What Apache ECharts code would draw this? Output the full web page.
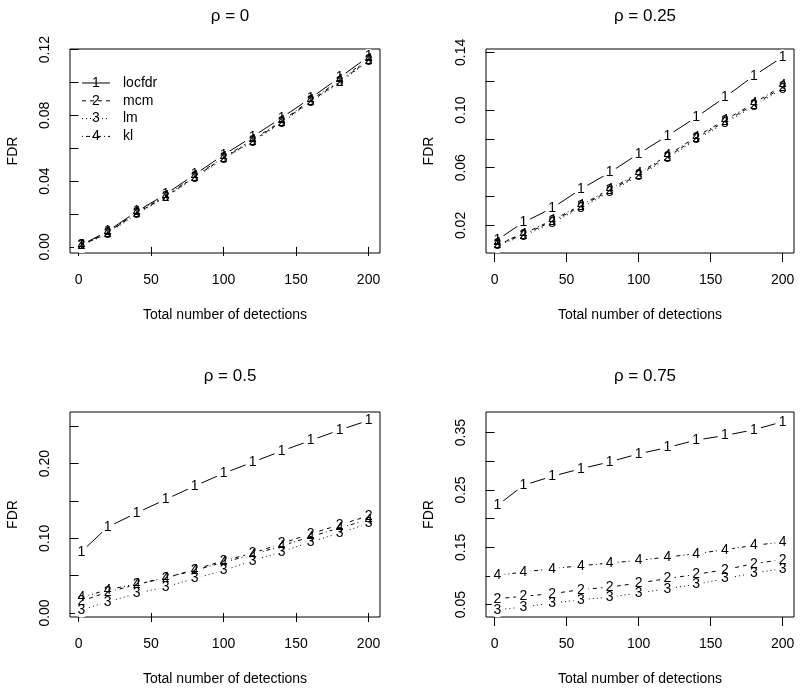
<!DOCTYPE html>
<html>
<head>
<meta charset="utf-8">
<script src="https://cdn.jsdelivr.net/npm/echarts@6/dist/echarts.min.js"></script>
<style>
  html, body { margin: 0; padding: 0; background: #fff; }
  #chart { width: 800px; height: 688px; }
</style>
</head>
<body>
<div id="chart"></div>
<script>
// x positions (total number of detections)
const detections = [2, 20, 40, 60, 80, 100, 120, 140, 160, 180, 200];
const methods = ["locfdr", "mcm", "lm", "kl"];
const rhos = ["0", "0.25", "0.5", "0.75"];

// FDR per panel, rows in order locfdr, mcm, lm, kl
const fdrRho0 = [
  [0.0012, 0.0095, 0.0215, 0.0320, 0.0440, 0.0560, 0.0670, 0.0785, 0.0905, 0.1030, 0.1158],
  [0.0010, 0.0085, 0.0205, 0.0305, 0.0425, 0.0540, 0.0645, 0.0760, 0.0885, 0.1005, 0.1135],
  [0.0008, 0.0080, 0.0200, 0.0300, 0.0420, 0.0535, 0.0640, 0.0755, 0.0880, 0.1000, 0.1130],
  [0.0012, 0.0088, 0.0210, 0.0310, 0.0430, 0.0545, 0.0652, 0.0765, 0.0892, 0.1012, 0.1145],
];
const fdrRho25 = [
  [0.0101, 0.0221, 0.0320, 0.0452, 0.0567, 0.0697, 0.0821, 0.0950, 0.1089, 0.1237, 0.1368],
  [0.0068, 0.0135, 0.0228, 0.0332, 0.0442, 0.0552, 0.0674, 0.0805, 0.0920, 0.1036, 0.1158],
  [0.0061, 0.0128, 0.0218, 0.0322, 0.0432, 0.0542, 0.0664, 0.0795, 0.0910, 0.1026, 0.1148],
  [0.0074, 0.0142, 0.0236, 0.0340, 0.0452, 0.0562, 0.0684, 0.0815, 0.0930, 0.1046, 0.1170],
];
const fdrRho50 = [
  [0.082, 0.115, 0.134, 0.152, 0.170, 0.187, 0.202, 0.217, 0.231, 0.245, 0.258],
  [0.016, 0.028, 0.038, 0.047, 0.058, 0.070, 0.080, 0.093, 0.106, 0.118, 0.130],
  [0.004, 0.015, 0.026, 0.035, 0.046, 0.057, 0.070, 0.082, 0.095, 0.107, 0.120],
  [0.021, 0.031, 0.039, 0.047, 0.057, 0.068, 0.078, 0.090, 0.102, 0.114, 0.125],
];
const fdrRho75 = [
  [0.223, 0.258, 0.274, 0.287, 0.299, 0.313, 0.324, 0.337, 0.345, 0.355, 0.369],
  [0.0605, 0.0645, 0.0692, 0.0762, 0.0807, 0.0877, 0.0954, 0.1029, 0.1110, 0.1215, 0.1285],
  [0.0413, 0.0458, 0.0528, 0.0587, 0.0633, 0.0702, 0.0779, 0.0854, 0.0954, 0.1051, 0.1128],
  [0.1011, 0.1069, 0.1128, 0.1180, 0.1226, 0.1273, 0.1330, 0.1389, 0.1459, 0.1534, 0.1592],
];
const panels = [fdrRho0, fdrRho25, fdrRho50, fdrRho75];

// ticks and labels
const xTicks = [0, 50, 100, 150, 200];
const yTicks = [
  [0, 0.02, 0.04, 0.06, 0.08, 0.10, 0.12],
  [0.02, 0.04, 0.06, 0.08, 0.10, 0.12, 0.14],
  [0, 0.05, 0.10, 0.15, 0.20, 0.25],
  [0.05, 0.10, 0.15, 0.20, 0.25, 0.30, 0.35],
];
const yLabels = [
  [0, 0.04, 0.08, 0.12],
  [0.02, 0.06, 0.10, 0.14],
  [0, 0.10, 0.20],
  [0.05, 0.15, 0.25, 0.35],
];
const yLimits = [[-0.0037, 0.1204], [0.0009, 0.1423], [-0.0054, 0.2692], [0.0285, 0.386]];
const xLimits = [-5.92, 207.92];

const FONT = "'Liberation Sans', Arial, sans-serif";
const dashes = ["solid", [4, 4], [1, 3], [1, 3, 4, 3]];
const grids = [
  { left: 70, top: 49, width: 310, height: 204 },
  { left: 486, top: 49, width: 308, height: 204 },
  { left: 70, top: 412, width: 310, height: 205 },
  { left: 486, top: 412, width: 308, height: 205 },
];

const chart = echarts.init(document.getElementById("chart"));

const series = [];
panels.forEach((rows, p) => {
  rows.forEach((vals, m) => {
    series.push({
      type: "line",
      name: methods[m],
      xAxisIndex: p,
      yAxisIndex: p,
      data: detections.map((d, i) => [d, vals[i]]),
      symbol: "circle",
      symbolSize: 15,
      itemStyle: { color: "#fff", borderWidth: 0 },
      lineStyle: { color: "#000", width: 1, type: dashes[m] },
      label: {
        show: true,
        position: "inside",
        formatter: String(m + 1),
        color: "#000",
        fontSize: 14,
        fontFamily: FONT,
      },
      emphasis: { disabled: true },
      silent: true,
    });
  });
});

// legend in first panel (R style: line with digit on it)
const legendItems = [];
methods.forEach((name, m) => {
  const y = 83 + m * 17.8;
  legendItems.push({
    type: "line",
    shape: { x1: 82, y1: y, x2: 110, y2: y },
    style: { stroke: "#000", lineWidth: 1, lineDash: m === 0 ? null : dashes[m] },
  });
  legendItems.push({
    type: "text",
    x: 96, y: y,
    style: { text: String(m + 1), fill: "#000", font: "14px " + FONT, align: "center", verticalAlign: "middle" },
  });
  legendItems.push({
    type: "text",
    x: 123, y: y,
    style: { text: name, fill: "#000", font: "14px " + FONT, align: "left", verticalAlign: "middle" },
  });
});

const option = {
  animation: false,
  backgroundColor: "#fff",
  title: rhos.map((r, p) => ({
    text: "ρ = " + r,
    left: grids[p].left + grids[p].width / 2,
    top: p < 2 ? 3 : 363,
    textAlign: "center",
    textStyle: { fontSize: 17, fontWeight: "normal", color: "#000", fontFamily: FONT },
  })),
  grid: grids.map((g) => Object.assign({ show: true, borderColor: "#000", borderWidth: 1, backgroundColor: "transparent" }, g)),
  xAxis: grids.map((g, p) => ({
    type: "value",
    gridIndex: p,
    min: xLimits[0],
    max: xLimits[1],
    axisLine: { show: false },
    splitLine: { show: false },
    axisTick: { show: true, length: 9, customValues: xTicks, lineStyle: { color: "#000" } },
    axisLabel: { customValues: xTicks, margin: 20, fontSize: 14, color: "#000", fontFamily: FONT },
    name: "Total number of detections",
    nameLocation: "middle",
    nameGap: 55,
    nameTextStyle: { fontSize: 14, color: "#000", fontFamily: FONT },
  })),
  yAxis: grids.map((g, p) => ({
    type: "value",
    gridIndex: p,
    min: yLimits[p][0],
    max: yLimits[p][1],
    axisLine: { show: false },
    splitLine: { show: false },
    axisTick: { show: true, length: 9, customValues: yTicks[p], lineStyle: { color: "#000" } },
    axisLabel: {
      customValues: yLabels[p],
      rotate: 90,
      margin: 18,
      fontSize: 14,
      color: "#000",
      fontFamily: FONT,
      formatter: (v) => v.toFixed(2),
    },
    name: "FDR",
    nameLocation: "middle",
    nameGap: 50,
    nameTextStyle: { fontSize: 14, color: "#000", fontFamily: FONT },
  })),
  series: series,
  graphic: legendItems,
};

chart.setOption(option);
</script>
</body>
</html>
